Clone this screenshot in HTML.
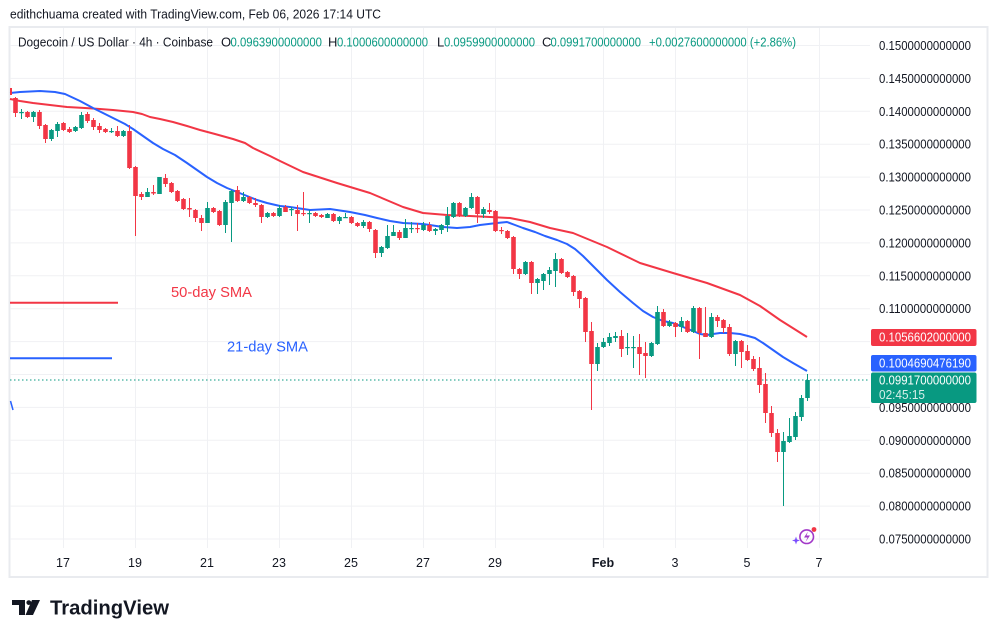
<!DOCTYPE html>
<html><head><meta charset="utf-8"><style>
html,body{margin:0;padding:0;background:#fff;}
svg{display:block;font-family:"Liberation Sans",sans-serif;}
</style></head><body>
<svg width="998" height="637" viewBox="0 0 998 637" xmlns="http://www.w3.org/2000/svg">
<rect width="998" height="637" fill="#fff"/>
<text x="10" y="18.5" font-size="13" fill="#131722" textLength="371" lengthAdjust="spacingAndGlyphs">edithchuama created with TradingView.com, Feb 06, 2026 17:14 UTC</text>
<rect x="9.5" y="27" width="978" height="550" fill="none" stroke="#e9ebef" stroke-width="2"/>
<g stroke="#f0f1f4" stroke-width="1">
<path d="M63.5 28V548M135.5 28V548M207.5 28V548M279.5 28V548M351.5 28V548M423.5 28V548M495.5 28V548M603.5 28V548M675.5 28V548M747.5 28V548M819.5 28V548"/>
<path d="M10 45.5H870M10 78.4H870M10 111.3H870M10 144.2H870M10 177.1H870M10 210H870M10 242.9H870M10 275.8H870M10 308.7H870M10 341.6H870M10 374.5H870M10 407.4H870M10 440.3H870M10 473.2H870M10 506.1H870M10 539H870"/>
</g>
<g font-size="13">
<text x="18" y="46.5" fill="#131722" textLength="195" lengthAdjust="spacingAndGlyphs">Dogecoin / US Dollar · 4h · Coinbase</text>
<text x="221" y="46.5" fill="#131722">O</text><text x="230.5" y="46.5" fill="#089981" textLength="91.5" lengthAdjust="spacingAndGlyphs">0.0963900000000</text>
<text x="328" y="46.5" fill="#131722">H</text><text x="337" y="46.5" fill="#089981" textLength="91" lengthAdjust="spacingAndGlyphs">0.1000600000000</text>
<text x="437" y="46.5" fill="#131722">L</text><text x="444" y="46.5" fill="#089981" textLength="91" lengthAdjust="spacingAndGlyphs">0.0959900000000</text>
<text x="542" y="46.5" fill="#131722">C</text><text x="550.5" y="46.5" fill="#089981" textLength="90.5" lengthAdjust="spacingAndGlyphs">0.0991700000000</text>
<text x="649" y="46.5" fill="#089981" textLength="147" lengthAdjust="spacingAndGlyphs">+0.0027600000000 (+2.86%)</text>
</g>
<!-- legend annotations -->
<path d="M10 302.7H118" stroke="#f23645" stroke-width="2"/>
<path d="M10 358.3H112" stroke="#2962ff" stroke-width="2"/>
<text x="171" y="297" font-size="14.5" fill="#f23645" textLength="81" lengthAdjust="spacingAndGlyphs">50-day SMA</text>
<text x="227" y="351.5" font-size="14.5" fill="#2962ff" textLength="81" lengthAdjust="spacingAndGlyphs">21-day SMA</text>
<path d="M10.5 401L13 410" stroke="#2962ff" stroke-width="1.5"/>
<!-- current price dotted line -->
<path d="M10 380H870" stroke="#089981" stroke-width="1" stroke-dasharray="1.5 2.5"/>
<!-- SMA lines -->
<polyline fill="none" stroke="#f23645" stroke-width="2" stroke-linejoin="round" points="10,99 20,101 33,103 50,105 67,107 85,108 100,109 113,110 123,111 133,112 142,114 150,117 160,119 173,122 187,126 200,130 215,134 233,139 245,143 253,148 270,156 280,161 303,172 337,183 370,193 403,207 423,213 447,215 470,216 490,217 510,218 530,222 550,228 573,233 607,247 640,263 673,273 707,283 740,295 760,306 780,320 807,337"/>
<polyline fill="none" stroke="#2962ff" stroke-width="2" stroke-linejoin="round" points="10,93 20,92 40,91 55,92 65,94 80,101 93,108 105,114 117,120 125,124 133,129 143,136 153,143 163,149 175,155 187,163 197,170 207,177 217,183 227,188 237,192 247,196 257,200 267,203 280,206 290,207 310,210 330,209 350,212 365,215 377,218 390,221 403,223 423,224 443,227 457,228 470,227 480,225 497,223 507,222 515,225 523,228 535,232 545,236 557,240 567,244 575,249 583,256 595,268 607,280 620,292 633,303 643,311 653,317 663,321 673,323 683,327 693,331 700,334 707,335 713,334 720,333 730,333 740,334 748,336 755,338 763,343 773,350 783,357 793,363 800,367 807,371"/>
<!-- red candles -->
<g fill="#f23645" stroke="#f23645">
<rect x="10" y="88" width="2" height="7" stroke="none"/>
<path fill="none" stroke-width="1" d="M15.5 97V117M27.5 111V118M39.5 110V129M45.5 124V143M63.5 122V131M69.5 127V133M87.5 112V123M93.5 118V130M99.5 123V133M105.5 128V133M117.5 126V137M129.5 125V169M135.5 166V236M141.5 192V200M153.5 185V195M165.5 174V187M171.5 182V193M177.5 190V202M183.5 198V210M189.5 198V217M195.5 209V222M201.5 215V231M213.5 207V213M219.5 210V226M237.5 186V202M249.5 196V204M255.5 198V207M261.5 204V223M273.5 212V217M285.5 205V212M297.5 205V231M303.5 192V216M315.5 212V217M321.5 214V218M333.5 213V222M351.5 216V224M357.5 222V227M369.5 221V232M375.5 229V258M399.5 230V240M417.5 223V233M429.5 222V232M459.5 202V217M477.5 196V223M489.5 203V214M495.5 210V232M501.5 227V234M507.5 230V239M513.5 236V274M519.5 268V279M531.5 261V294M561.5 258V274M567.5 271V278M573.5 275V296M579.5 290V308M585.5 297V342M591.5 322V410M621.5 330V357M639.5 334V375M645.5 342V378M663.5 309V327M675.5 322V337M687.5 320V333M699.5 307V359M705.5 307V337M717.5 315V327M723.5 319V333M729.5 324V356M741.5 340V368M747.5 345V361M753.5 356V371M759.5 357V393M765.5 373V423M771.5 406V437M777.5 429V462"/>
<g stroke="none">
<rect x="13.2" y="98" width="4.6" height="15"/><rect x="25.2" y="112" width="4.6" height="5"/><rect x="37.2" y="112" width="4.6" height="14"/><rect x="43.2" y="125" width="4.6" height="14"/><rect x="61.2" y="123" width="4.6" height="7"/><rect x="67.2" y="129" width="4.6" height="3"/><rect x="85.2" y="114" width="4.6" height="7"/><rect x="91.2" y="120" width="4.6" height="7"/><rect x="97.2" y="126" width="4.6" height="4"/><rect x="103.2" y="129" width="4.6" height="3"/><rect x="115.2" y="131" width="4.6" height="5"/><rect x="127.2" y="131" width="4.6" height="37"/><rect x="133.2" y="167" width="4.6" height="29"/><rect x="139.2" y="194" width="4.6" height="3"/><rect x="151.2" y="192" width="4.6" height="1.5"/><rect x="163.2" y="178" width="4.6" height="6"/><rect x="169.2" y="183" width="4.6" height="9"/><rect x="175.2" y="191" width="4.6" height="10"/><rect x="181.2" y="199" width="4.6" height="10"/><rect x="187.2" y="208" width="4.6" height="1.5"/><rect x="193.2" y="210" width="4.6" height="8"/><rect x="199.2" y="218" width="4.6" height="5"/><rect x="211.2" y="208" width="4.6" height="4"/><rect x="217.2" y="211" width="4.6" height="14"/><rect x="235.2" y="190" width="4.6" height="11"/><rect x="247.2" y="197" width="4.6" height="6"/><rect x="253.2" y="203" width="4.6" height="2"/><rect x="259.2" y="205" width="4.6" height="12"/><rect x="271.2" y="213" width="4.6" height="3"/><rect x="283.2" y="207" width="4.6" height="5"/><rect x="295.2" y="210" width="4.6" height="4"/><rect x="301.2" y="213" width="4.6" height="1.2"/><rect x="313.2" y="213" width="4.6" height="3"/><rect x="319.2" y="215" width="4.6" height="2"/><rect x="331.2" y="214" width="4.6" height="7"/><rect x="349.2" y="217" width="4.6" height="6"/><rect x="355.2" y="223" width="4.6" height="3"/><rect x="367.2" y="222" width="4.6" height="7"/><rect x="373.2" y="230" width="4.6" height="23"/><rect x="397.2" y="232" width="4.6" height="6"/><rect x="415.2" y="228" width="4.6" height="1.2"/><rect x="427.2" y="225" width="4.6" height="6"/><rect x="457.2" y="203" width="4.6" height="13"/><rect x="475.2" y="197" width="4.6" height="17"/><rect x="487.2" y="210" width="4.6" height="2"/><rect x="493.2" y="211" width="4.6" height="20"/><rect x="499.2" y="230" width="4.6" height="1.2"/><rect x="505.2" y="231" width="4.6" height="7"/><rect x="511.2" y="237" width="4.6" height="32"/><rect x="517.2" y="269" width="4.6" height="5"/><rect x="529.2" y="262" width="4.6" height="21"/><rect x="559.2" y="259" width="4.6" height="14"/><rect x="565.2" y="272" width="4.6" height="5"/><rect x="571.2" y="276" width="4.6" height="16"/><rect x="577.2" y="291" width="4.6" height="8"/><rect x="583.2" y="298" width="4.6" height="34"/><rect x="589.2" y="331" width="4.6" height="33"/><rect x="619.2" y="336" width="4.6" height="13"/><rect x="637.2" y="347" width="4.6" height="7"/><rect x="643.2" y="353" width="4.6" height="3"/><rect x="661.2" y="312" width="4.6" height="14"/><rect x="673.2" y="323" width="4.6" height="4"/><rect x="685.2" y="321" width="4.6" height="11"/><rect x="697.2" y="308" width="4.6" height="25"/><rect x="703.2" y="333" width="4.6" height="4"/><rect x="715.2" y="317" width="4.6" height="4"/><rect x="721.2" y="320" width="4.6" height="8"/><rect x="727.2" y="327" width="4.6" height="27"/><rect x="739.2" y="341" width="4.6" height="11"/><rect x="745.2" y="351" width="4.6" height="9"/><rect x="751.2" y="359" width="4.6" height="10"/><rect x="757.2" y="368" width="4.6" height="17"/><rect x="763.2" y="384" width="4.6" height="29"/><rect x="769.2" y="413" width="4.6" height="20"/><rect x="775.2" y="433" width="4.6" height="19"/>
</g></g>
<!-- green candles -->
<g fill="#089981" stroke="#089981">
<path fill="none" stroke-width="1" d="M21.5 109V119M33.5 111V122M51.5 129V141M57.5 122V137M75.5 126V132M81.5 112V129M111.5 128V133M123.5 130V137M147.5 188V197M159.5 177V194M207.5 202V223M225.5 200V233M231.5 190V242M243.5 192V202M267.5 212V218M279.5 205V217M291.5 207V216M309.5 210V223M327.5 213V218M339.5 216V224M345.5 213V218M363.5 220V228M381.5 246V257M387.5 225V249M393.5 225V236M405.5 219V238M411.5 222V233M423.5 222V231M435.5 228V235M441.5 224V234M447.5 207V232M453.5 202V218M465.5 207V217M471.5 193V209M483.5 207V218M525.5 261V275M537.5 278V294M543.5 273V290M549.5 267V285M555.5 253V287M597.5 343V371M603.5 338V348M609.5 333V346M615.5 332V342M627.5 333V355M633.5 336V368M651.5 342V357M657.5 306V345M669.5 320V327M681.5 317V332M693.5 306V333M711.5 313V338M735.5 340V366M783.5 432V506M789.5 418V443M795.5 412V440M801.5 395V421M807.5 374V401"/>
<g stroke="none">
<rect x="19.2" y="112" width="4.6" height="1.2"/><rect x="31.2" y="112" width="4.6" height="5"/><rect x="49.2" y="130" width="4.6" height="9"/><rect x="55.2" y="124" width="4.6" height="7"/><rect x="73.2" y="127" width="4.6" height="4"/><rect x="79.2" y="115" width="4.6" height="13"/><rect x="109.2" y="131" width="4.6" height="1.2"/><rect x="121.2" y="131" width="4.6" height="5"/><rect x="145.2" y="192" width="4.6" height="5"/><rect x="157.2" y="177" width="4.6" height="17"/><rect x="205.2" y="208" width="4.6" height="15"/><rect x="223.2" y="202" width="4.6" height="23"/><rect x="229.2" y="191" width="4.6" height="12"/><rect x="241.2" y="197" width="4.6" height="4"/><rect x="265.2" y="213" width="4.6" height="4"/><rect x="277.2" y="208" width="4.6" height="8"/><rect x="289.2" y="209" width="4.6" height="1.2"/><rect x="307.2" y="213" width="4.6" height="1.2"/><rect x="325.2" y="214" width="4.6" height="4"/><rect x="337.2" y="217" width="4.6" height="4"/><rect x="343.2" y="217" width="4.6" height="1.2"/><rect x="361.2" y="222" width="4.6" height="4"/><rect x="379.2" y="247" width="4.6" height="6"/><rect x="385.2" y="236" width="4.6" height="12"/><rect x="391.2" y="232" width="4.6" height="4"/><rect x="403.2" y="228" width="4.6" height="10"/><rect x="409.2" y="228" width="4.6" height="1.2"/><rect x="421.2" y="225" width="4.6" height="5"/><rect x="433.2" y="229" width="4.6" height="2"/><rect x="439.2" y="225" width="4.6" height="5"/><rect x="445.2" y="216" width="4.6" height="9"/><rect x="451.2" y="203" width="4.6" height="14"/><rect x="463.2" y="208" width="4.6" height="8"/><rect x="469.2" y="197" width="4.6" height="11"/><rect x="481.2" y="209" width="4.6" height="5"/><rect x="523.2" y="262" width="4.6" height="12"/><rect x="535.2" y="279" width="4.6" height="4"/><rect x="541.2" y="274" width="4.6" height="7"/><rect x="547.2" y="270" width="4.6" height="4"/><rect x="553.2" y="259" width="4.6" height="12"/><rect x="595.2" y="347" width="4.6" height="17"/><rect x="601.2" y="342" width="4.6" height="5"/><rect x="607.2" y="337" width="4.6" height="6"/><rect x="613.2" y="336" width="4.6" height="2"/><rect x="625.2" y="347" width="4.6" height="1.2"/><rect x="631.2" y="347" width="4.6" height="1.2"/><rect x="649.2" y="343" width="4.6" height="13"/><rect x="655.2" y="312" width="4.6" height="32"/><rect x="667.2" y="322" width="4.6" height="4"/><rect x="679.2" y="321" width="4.6" height="6"/><rect x="691.2" y="308" width="4.6" height="24"/><rect x="709.2" y="317" width="4.6" height="20"/><rect x="733.2" y="341" width="4.6" height="13"/><rect x="781.2" y="441" width="4.6" height="11"/><rect x="787.2" y="436" width="4.6" height="6"/><rect x="793.2" y="416" width="4.6" height="21"/><rect x="799.2" y="398" width="4.6" height="19"/><rect x="805.2" y="380" width="4.6" height="18"/>
</g></g>
<!-- price axis labels -->
<g font-size="12.5" fill="#131722">
<text x="879" y="50" textLength="92" lengthAdjust="spacingAndGlyphs">0.1500000000000</text>
<text x="879" y="82.9" textLength="92" lengthAdjust="spacingAndGlyphs">0.1450000000000</text>
<text x="879" y="115.8" textLength="92" lengthAdjust="spacingAndGlyphs">0.1400000000000</text>
<text x="879" y="148.7" textLength="92" lengthAdjust="spacingAndGlyphs">0.1350000000000</text>
<text x="879" y="181.6" textLength="92" lengthAdjust="spacingAndGlyphs">0.1300000000000</text>
<text x="879" y="214.5" textLength="92" lengthAdjust="spacingAndGlyphs">0.1250000000000</text>
<text x="879" y="247.4" textLength="92" lengthAdjust="spacingAndGlyphs">0.1200000000000</text>
<text x="879" y="280.3" textLength="92" lengthAdjust="spacingAndGlyphs">0.1150000000000</text>
<text x="879" y="313.2" textLength="92" lengthAdjust="spacingAndGlyphs">0.1100000000000</text>
<text x="879" y="411.9" textLength="92" lengthAdjust="spacingAndGlyphs">0.0950000000000</text>
<text x="879" y="444.8" textLength="92" lengthAdjust="spacingAndGlyphs">0.0900000000000</text>
<text x="879" y="477.7" textLength="92" lengthAdjust="spacingAndGlyphs">0.0850000000000</text>
<text x="879" y="510.6" textLength="92" lengthAdjust="spacingAndGlyphs">0.0800000000000</text>
<text x="879" y="543.5" textLength="92" lengthAdjust="spacingAndGlyphs">0.0750000000000</text>
</g>
<rect x="871" y="329" width="105.5" height="17" rx="2" fill="#f23645"/>
<text x="879" y="341.5" font-size="12.5" fill="#fff" textLength="92" lengthAdjust="spacingAndGlyphs">0.1056602000000</text>
<rect x="871" y="355" width="105.5" height="16.5" rx="2" fill="#2962ff"/>
<text x="879" y="367.5" font-size="12.5" fill="#fff" textLength="92" lengthAdjust="spacingAndGlyphs">0.1004690476190</text>
<rect x="871" y="372.5" width="105.5" height="30.5" rx="2" fill="#089981"/>
<text x="879" y="384.7" font-size="12.5" fill="#fff" textLength="92" lengthAdjust="spacingAndGlyphs">0.0991700000000</text>
<text x="879" y="399" font-size="12.5" fill="#d5efe9" textLength="46" lengthAdjust="spacingAndGlyphs">02:45:15</text>
<!-- time axis -->
<g font-size="12.5" fill="#131722" text-anchor="middle">
<text x="63" y="567">17</text><text x="135" y="567">19</text><text x="207" y="567">21</text><text x="279" y="567">23</text><text x="351" y="567">25</text><text x="423" y="567">27</text><text x="495" y="567">29</text><text x="603" y="567" font-weight="bold">Feb</text><text x="675" y="567">3</text><text x="747" y="567">5</text><text x="819" y="567">7</text>
</g>
<!-- icon -->
<circle cx="806.7" cy="536.7" r="6.8" fill="none" stroke="#a238c8" stroke-width="1.6"/>
<path d="M808 531.5L804 537.5H807.5L805.5 542L810 535.5H806.5Z" fill="#a238c8"/>
<circle cx="814" cy="529.5" r="2.4" fill="#f23645"/>
<path d="M796 536.5L797 539.5L800 540.5L797 541.5L796 544.5L795 541.5L792 540.5L795 539.5Z" fill="#7b4dff"/>
<!-- logo -->
<g fill="#131722">
<rect x="12" y="600" width="13" height="5"/>
<rect x="19" y="600" width="6" height="15"/>
<circle cx="28.8" cy="602.6" r="2.4"/>
<polygon points="32,600 40,600 33,615 25.5,615"/>
<text x="50" y="614.3" font-size="20" font-weight="bold" textLength="119" lengthAdjust="spacingAndGlyphs">TradingView</text>
</g>
</svg>
</body></html>
